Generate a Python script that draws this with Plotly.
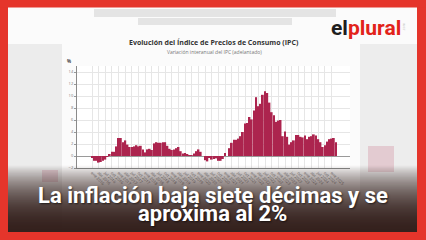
import plotly.graph_objects as go

# ---------------- data ----------------
months = ["ene", "feb", "mar", "abr", "may", "jun", "jul", "ago", "sep", "oct", "nov", "dic"]
years = [2016, 2017, 2018, 2019, 2020, 2021, 2022, 2023, 2024, 2025]

ipc_2016 = [-0.3, -0.8, -0.8, -1.1, -1.0, -0.8, -0.6, -0.1, 0.2, 0.7, 0.7, 1.6]
ipc_2017 = [3.0, 3.0, 2.3, 2.6, 1.9, 1.5, 1.5, 1.6, 1.8, 1.6, 1.7, 1.1]
ipc_2018 = [0.6, 1.1, 1.2, 1.0, 2.1, 2.3, 2.2, 2.2, 2.3, 2.3, 1.7, 1.2]
ipc_2019 = [1.0, 1.1, 1.3, 1.5, 0.8, 0.4, 0.5, 0.3, 0.1, 0.1, 0.4, 0.8]
ipc_2020 = [1.1, 0.7, 0.0, -0.7, -0.9, -0.3, -0.6, -0.5, -0.4, -0.8, -0.8, -0.5]
ipc_2021 = [0.5, 0.0, 1.3, 2.2, 2.7, 2.7, 2.9, 3.3, 4.0, 5.4, 5.5, 6.5]
ipc_2022 = [6.1, 7.6, 9.8, 8.3, 8.7, 10.2, 10.8, 10.5, 8.9, 7.3, 6.8, 5.7]
ipc_2023 = [5.9, 6.0, 3.3, 4.1, 3.2, 1.9, 2.3, 2.6, 3.5, 3.5, 3.2, 3.1]
ipc_2024 = [3.4, 2.8, 3.2, 3.3, 3.6, 3.4, 2.8, 2.3, 1.5, 1.8, 2.4, 2.8]
ipc_2025 = [2.9, 3.0, 2.3]

values = (ipc_2016 + ipc_2017 + ipc_2018 + ipc_2019 + ipc_2020 +
          ipc_2021 + ipc_2022 + ipc_2023 + ipc_2024 + ipc_2025)
labels = [f"{m} {y}" for y in years for m in months][:len(values)]
y_ticks = [-2, 0, 2, 4, 6, 8, 10, 12, 14]

title_text = "<b>Evolución del Índice de Precios de Consumo (IPC)</b>"
subtitle_text = "Variación interanual del IPC (adelantado)"
headline_1 = "La inflación baja siete décimas y se"
headline_2 = "aproxima al 2%"

# ---------------- layout helpers ----------------
W, H = 426, 240
ML, MR, MT, MB = 77, 76, 66, 72
PW, PH = W - ML - MR, H - MT - MB


def X(px):
    return (px - ML) / PW


def Y(py):
    return (H - MB - py) / PH


idx = list(range(len(values)))
tick_idx = idx[::3]
tick_txt = labels[::3]

fig = go.Figure()
fig.add_trace(go.Bar(x=idx, y=values, marker=dict(color="rgb(172,36,78)", line=dict(width=0)),
                     hoverinfo="skip"))

shapes = []
# side grey panels
shapes.append(dict(type="rect", xref="paper", yref="paper", x0=X(0), x1=X(62), y0=Y(240), y1=Y(44),
                   fillcolor="#ececec", line=dict(width=0), layer="below"))
shapes.append(dict(type="rect", xref="paper", yref="paper", x0=X(360), x1=X(426), y0=Y(240), y1=Y(44),
                   fillcolor="#ededed", line=dict(width=0), layer="below"))
# pink blur bottom right / left
shapes.append(dict(type="rect", xref="paper", yref="paper", x0=X(368), x1=X(394), y0=Y(172), y1=Y(146),
                   fillcolor="rgba(190,80,110,0.22)", line=dict(width=0), layer="below"))
shapes.append(dict(type="rect", xref="paper", yref="paper", x0=X(42), x1=X(58), y0=Y(182), y1=Y(170),
                   fillcolor="rgba(190,80,110,0.2)", line=dict(width=0), layer="below"))
# blurred top text
shapes.append(dict(type="rect", xref="paper", yref="paper", x0=X(94), x1=X(336), y0=Y(17), y1=Y(9),
                   fillcolor="rgba(200,200,200,0.45)", line=dict(width=0), layer="below"))
shapes.append(dict(type="rect", xref="paper", yref="paper", x0=X(138), x1=X(292), y0=Y(25), y1=Y(18),
                   fillcolor="rgba(200,200,200,0.45)", line=dict(width=0), layer="below"))

# bottom dark gradient
y_start, y_end, step = 165, 232, 1
n = (y_end - y_start) // step
for i in range(n):
    t = (i + 0.5) / n
    a = 0.97 * (1 - (1 - t) ** 1.8)
    y0 = y_start + i * step
    shapes.append(dict(type="rect", xref="paper", yref="paper", x0=X(0), x1=X(426),
                       y0=Y(y0 + step + 0.3), y1=Y(y0),
                       fillcolor=f"rgba(48,28,24,{a:.3f})", line=dict(width=0), layer="above"))

# red frame
red = "#e5352b"
for (x0, x1, y0, y1) in [(0, 8, 0, 240), (417, 426, 0, 240), (0, 426, 0, 7.5), (0, 426, 232, 240)]:
    shapes.append(dict(type="rect", xref="paper", yref="paper", x0=X(x0), x1=X(x1), y0=Y(y1), y1=Y(y0),
                       fillcolor=red, line=dict(width=0), layer="above"))

annotations = [
    dict(text=title_text, x=X(214), y=Y(42.5), xref="paper", yref="paper", showarrow=False,
         xanchor="center", yanchor="middle", font=dict(family="Open Sans", size=7, color="#333333")),
    dict(text=subtitle_text, x=X(214.5), y=Y(51.7), xref="paper", yref="paper", showarrow=False,
         xanchor="center", yanchor="middle", font=dict(family="Open Sans", size=5, color="#777777")),
    dict(text="<b>%</b>", x=X(69), y=Y(61), xref="paper", yref="paper", showarrow=False,
         xanchor="center", yanchor="middle", font=dict(family="Open Sans", size=4.5, color="#444444")),
    dict(text="<b><span style='color:#1e1e1e'>el</span><span style='color:#e2231a'>plural</span></b>",
         x=X(366), y=Y(27.5), xref="paper", yref="paper", showarrow=False,
         xanchor="center", yanchor="middle", font=dict(family="Roboto", size=21)),
    dict(text=".com", x=X(404), y=Y(27), xref="paper", yref="paper", showarrow=False, textangle=-90,
         xanchor="center", yanchor="middle", font=dict(family="Roboto", size=3.5, color="#bbbbbb")),
    dict(text=f"<b>{headline_1}</b>", x=X(212.5), y=Y(195), xref="paper", yref="paper", showarrow=False,
         xanchor="center", yanchor="middle",
         font=dict(family="Roboto", size=22, color="white", shadow="1px 1px 2px rgba(0,0,0,0.6)")),
    dict(text=f"<b>{headline_2}</b>", x=X(212.5), y=Y(213.5), xref="paper", yref="paper", showarrow=False,
         xanchor="center", yanchor="middle",
         font=dict(family="Roboto", size=22, color="white", shadow="1px 1px 2px rgba(0,0,0,0.6)")),
]

fig.update_layout(
    width=W, height=H,
    margin=dict(l=ML, r=MR, t=MT, b=MB, pad=0),
    paper_bgcolor="#fbfbfb", plot_bgcolor="#ffffff",
    showlegend=False, bargap=0.18,
    shapes=shapes, annotations=annotations,
    xaxis=dict(range=[-6.76, 116.3], tickmode="array", tickvals=tick_idx, ticktext=tick_txt,
               tickangle=45, tickfont=dict(family="Open Sans", size=4, color="#777777"),
               showgrid=True, gridcolor="#e6e6e6", gridwidth=0.6,
               showline=True, linecolor="#8a8a8a", linewidth=1, zeroline=False,
               ticks="", fixedrange=True),
    yaxis=dict(range=[-2, 15], tickmode="array", tickvals=y_ticks,
               tickfont=dict(family="Open Sans", size=4, color="#777777"),
               showgrid=True, gridcolor="#e6e6e6", gridwidth=0.6,
               zeroline=True, zerolinecolor="#9a9a9a", zerolinewidth=1.4,
               showline=True, linecolor="#8a8a8a", linewidth=1,
               ticks="outside", ticklen=2, tickcolor="#999999", fixedrange=True),
)

fig.write_html("out.html")
